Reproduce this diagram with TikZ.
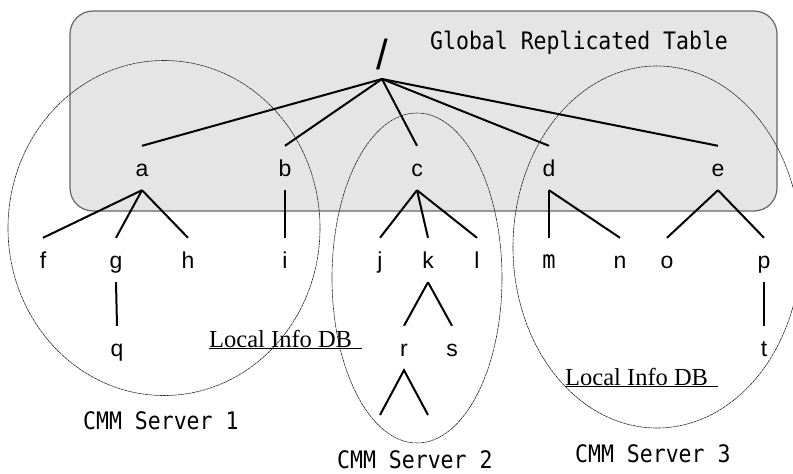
\documentclass[tikz,border=0pt]{standalone}
\usepackage{fontspec}
\setmainfont{Liberation Sans}
\newfontfamily\dbfont{Liberation Serif}
\newfontfamily\ttlfont{DejaVu Sans Mono}
\newcommand{\tallmono}[1]{\scalebox{1}[1.12]{#1}}

\begin{document}
\begin{tikzpicture}[x=1pt,y=-1pt,
  lbl/.style={inner sep=0pt, minimum height=44pt, text height=16pt, text depth=0pt,
              font=\fontsize{23}{23}\selectfont},
  link/.style={line width=2pt},
  cluster/.style={draw=black!85, line width=0.6pt, dash pattern=on 3pt off 0.6pt},
  servername/.style={font=\ttlfont\fontsize{21.5}{22}\selectfont, inner sep=0pt, anchor=base west},
  dblabel/.style={font=\dbfont\fontsize{24.5}{24.5}\selectfont, inner sep=0pt, anchor=base west}]

\useasboundingbox (0,0) rectangle (793,474);
\clip (0,0) rectangle (793,474);

% replicated top levels
\draw[fill=black!10, draw=black!60, line width=1.2pt, rounded corners=23pt]
  (70,11) rectangle (777,211);

% server regions
\draw[cluster] (164,228) ellipse [x radius=156, y radius=167.5];
\draw[cluster] (417,278) ellipse [x radius=85, y radius=165];
\draw[cluster] (657,247) ellipse [x radius=144, y radius=181];

% tree nodes
\node[font=\fontsize{42}{42}\selectfont, inner sep=0pt, text depth=9pt, anchor=south] (root) at (382,79) {/};
\node[lbl] (a) at (142,168) {a};
\node[lbl] (b) at (285,168) {b};
\node[lbl] (c) at (417,168) {c};
\node[lbl] (d) at (549,168) {d};
\node[lbl] (e) at (718,168) {e};
\node[lbl] (f) at (43,260) {f};
\node[lbl] (g) at (116,260) {g};
\node[lbl] (h) at (188,260) {h};
\node[lbl] (i) at (285,260) {i};
\node[lbl] (j) at (380,260) {j};
\node[lbl] (k) at (428,260) {k};
\node[lbl] (l) at (477,260) {l};
\node[lbl, font=\ttlfont\fontsize{22}{22}\selectfont] (m) at (549,260) {\tallmono{m}};
\node[lbl] (n) at (620,260) {n};
\node[lbl] (o) at (667,260) {o};
\node[lbl] (p) at (764,260) {p};
\node[lbl] (q) at (117,348) {q};
\node[lbl] (r) at (404,348) {r};
\node[lbl] (s) at (452,348) {s};
\node[lbl] (t) at (764,348) {t};
\coordinate (rl) at (380,415);
\coordinate (rr) at (428,415);

% tree edges
\foreach \x in {a,b,c,d,e} \draw[link] (root.south) -- (\x.north);
\foreach \x in {f,g,h} \draw[link] (a.south) -- (\x.north);
\draw[link] (b.south) -- (i.north);
\foreach \x in {j,k,l} \draw[link] (c.south) -- (\x.north);
\foreach \x in {m,n} \draw[link] (d.south) -- (\x.north);
\foreach \x in {o,p} \draw[link] (e.south) -- (\x.north);
\draw[link] (g.south) -- (q.north);
\foreach \x in {r,s} \draw[link] (k.south) -- (\x.north);
\draw[link] (p.south) -- (t.north);
\draw[link] (rl) -- (r.south) -- (rr);

% captions
\node[servername] (title) at (430,49) {\tallmono{Global Replicated Table}};
\node[servername] (srv1) at (83,429) {\tallmono{CMM Server 1}};
\node[servername] (srv2) at (337,468.5) {\tallmono{CMM Server 2}};
\node[servername] (srv3) at (575,462) {\tallmono{CMM Server 3}};
\node[dblabel] (db1) at (209,347) {\underline{Local Info DB\hspace{0.4em}}};
\node[dblabel] (db2) at (565,385) {\underline{Local Info DB\hspace{0.4em}}};
\end{tikzpicture}
\end{document}
